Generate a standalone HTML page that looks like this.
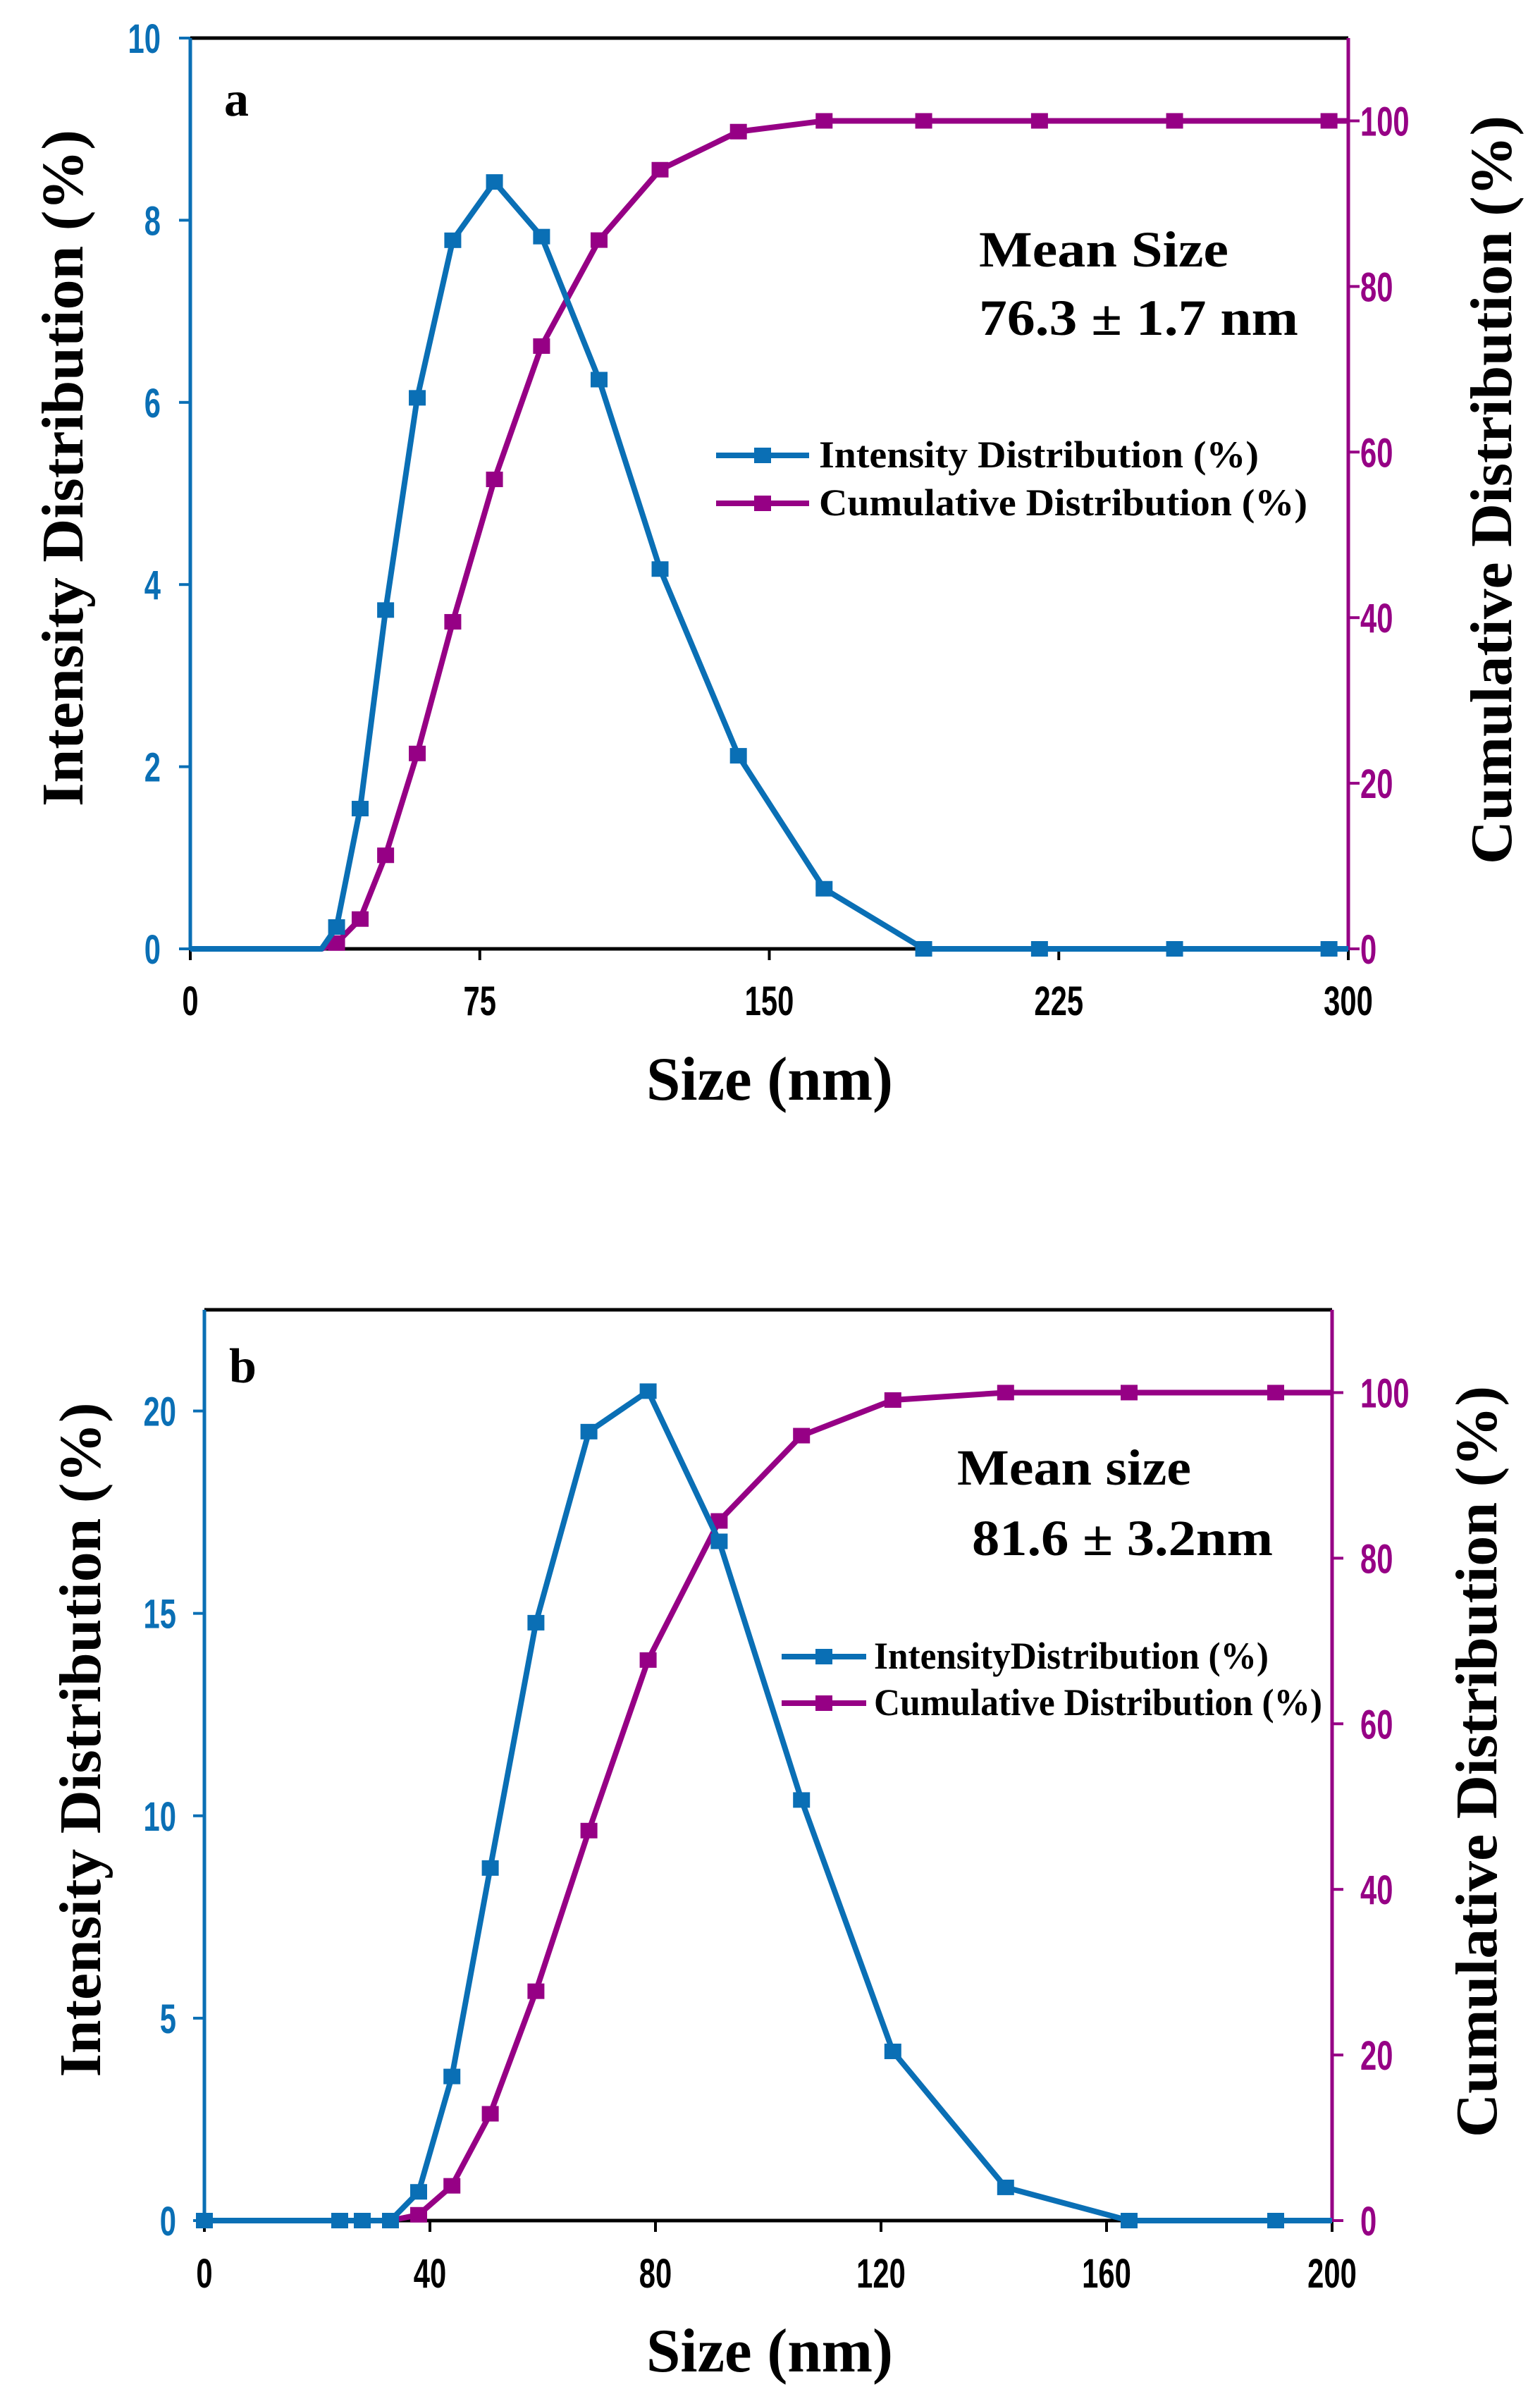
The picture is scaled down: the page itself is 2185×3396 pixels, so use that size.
<!DOCTYPE html>
<html><head><meta charset="utf-8"><style>
html,body{margin:0;padding:0;background:#fff;}
svg{display:block;}
</style></head><body>
<svg id="s" xmlns="http://www.w3.org/2000/svg" width="2185" height="3396" viewBox="0 0 2185 3396"></svg>
<script>
const B="#0a6fb5",P="#960085";
let o="";
function panel(p){
 const {L,R,T,Bm,xmax,ymax,y2max,xt,yt,y2t,I,C}=p;
 const X=v=>L+(R-L)*v/xmax, Y=v=>Bm-(Bm-T)*v/ymax, Y2=v=>Bm-(Bm-T)*v/y2max;
 o+=`<line x1="${L}" y1="${T}" x2="${R}" y2="${T}" stroke="#000" stroke-width="5"/>`;
 o+=`<line x1="${L}" y1="${Bm}" x2="${R}" y2="${Bm}" stroke="#000" stroke-width="5"/>`;
 o+=`<line x1="${L}" y1="${T}" x2="${L}" y2="${Bm}" stroke="${B}" stroke-width="5"/>`;
 o+=`<line x1="${R}" y1="${T}" x2="${R}" y2="${Bm}" stroke="${P}" stroke-width="5"/>`;
 const tf='font-family="Liberation Sans,sans-serif" font-weight="bold" font-size="58"';
 xt.forEach(v=>{const x=X(v);o+=`<line x1="${x}" y1="${Bm}" x2="${x}" y2="${Bm+16}" stroke="#000" stroke-width="4"/>`;
  o+=`<text x="${x}" y="${p.xly}" ${tf} text-anchor="middle" fill="#000" transform="translate(${x},0) scale(0.72,1) translate(${-x},0)">${v}</text>`;});
 yt.forEach(v=>{const y=Y(v);o+=`<line x1="${L-16}" y1="${y}" x2="${L}" y2="${y}" stroke="${B}" stroke-width="4"/>`;
  o+=`<text x="${p.ylx}" y="${y+21}" ${tf} text-anchor="end" fill="${B}" transform="translate(${p.ylx},0) scale(0.72,1) translate(${-p.ylx},0)">${v}</text>`;});
 y2t.forEach(v=>{const y=Y2(v);o+=`<line x1="${R}" y1="${y}" x2="${R+16}" y2="${y}" stroke="${P}" stroke-width="4"/>`;
  o+=`<text x="${1930}" y="${y+21}" ${tf} fill="${P}" transform="translate(1930,0) scale(0.72,1) translate(-1930,0)">${v}</text>`;});
 function series(d,col,Yf){
  o+=`<polyline fill="none" stroke="${col}" stroke-width="8" stroke-linejoin="round" points="${d.map(q=>X(q[0])+","+Yf(q[1])).join(" ")}"/>`;
  d.forEach(q=>{if(q[2]===0)return;o+=`<rect x="${X(q[0])-12}" y="${Yf(q[1])-11}" width="24" height="22" fill="${col}"/>`;});
 }
 series(C,P,Y2); series(I,B,Y);
 const sf='font-family="Liberation Serif,serif" font-weight="bold"';
 o+=`<text x="${p.lx}" y="${p.ly}" ${sf} font-size="70">${p.lab}</text>`;
 o+=`<text x="${p.m1[0]}" y="${p.m1[1]}" ${sf} font-size="72" textLength="${p.m1[2]}" lengthAdjust="spacingAndGlyphs">${p.m1[3]}</text>`;
 o+=`<text x="${p.m2[0]}" y="${p.m2[1]}" ${sf} font-size="72" textLength="${p.m2[2]}" lengthAdjust="spacingAndGlyphs">${p.m2[3]}</text>`;
 const g=p.leg;
 [[B,g.y1,g.t1,g.w1],[P,g.y2,"Cumulative Distribution (%)",g.w2]].forEach(a=>{
  o+=`<line x1="${g.x1}" y1="${a[1]}" x2="${g.x2}" y2="${a[1]}" stroke="${a[0]}" stroke-width="8"/>`;
  o+=`<rect x="${(g.x1+g.x2)/2-12}" y="${a[1]-11}" width="24" height="22" fill="${a[0]}"/>`;
  o+=`<text x="${g.tx}" y="${a[1]+17}" ${sf} font-size="54" textLength="${a[3]}" lengthAdjust="spacingAndGlyphs">${a[2]}</text>`;});
 o+=`<text x="1092" y="${p.xty}" ${sf} font-size="88" text-anchor="middle" textLength="350" lengthAdjust="spacingAndGlyphs">Size (nm)</text>`;
 o+=`<text transform="translate(${p.yl[0]},${p.yl[1]}) rotate(-90)" ${sf} font-size="84" text-anchor="middle" textLength="${p.yl[2]}" lengthAdjust="spacingAndGlyphs" dy="30">Intensity Distribution (%)</text>`;
 o+=`<text transform="translate(${p.yr[0]},${p.yr[1]}) rotate(-90)" ${sf} font-size="84" text-anchor="middle" textLength="${p.yr[2]}" lengthAdjust="spacingAndGlyphs" dy="30">Cumulative Distribution (%)</text>`;
}
panel({L:270,R:1913,T:54,Bm:1346,xmax:300,ymax:10,y2max:110,xt:[0,75,150,225,300],yt:[0,2,4,6,8,10],y2t:[0,20,40,60,80,100],
 xly:1440,ylx:228,lx:318,ly:164,lab:"a",
 I:[[0,0,0],[34,0,0],[37.9,0.24],[44,1.54],[50.6,3.72],[58.8,6.05],[68,7.78],[78.8,8.42],[91,7.82],[105.9,6.25],[121.7,4.17],[142,2.12],[164.2,0.66],[190,0],[220,0],[255,0],[295,0],[300,0,0]],
 C:[[0,0,0],[34,0,0],[37.9,0.7],[44,3.6],[50.6,11.3],[58.8,23.6],[68,39.5],[78.8,56.7],[91,72.8],[105.9,85.6],[121.7,94.1],[142,98.7],[164.2,100],[190,100],[220,100],[255,100],[295,100],[300,100,0]],
 m1:[1389,378,354,"Mean Size"],m2:[1389,475,453,"76.3 ± 1.7 nm"],
 leg:{x1:1016,x2:1148,tx:1162,y1:646,y2:714,t1:"Intensity Distribution (%)",w1:624,w2:693},
 xty:1560,yl:[87,664,960],yr:[2114,695,1062]});
panel({L:290,R:1890,T:1858,Bm:3150,xmax:200,ymax:22.5,y2max:110,xt:[0,40,80,120,160,200],yt:[0,5,10,15,20],y2t:[0,20,40,60,80,100],
 xly:3245,ylx:250,lx:325,ly:1961,lab:"b",
 I:[[0,0],[5,0,0],[24,0],[28,0],[33,0],[38,0.71],[43.9,3.56],[50.7,8.71],[58.8,14.77],[68.2,19.49],[78.7,20.49],[91.3,16.78],[105.9,10.39],[122.1,4.18],[142.1,0.82],[164,0],[190,0],[200,0,0]],
 C:[[0,0],[5,0,0],[24,0],[28,0],[33,0],[38,0.7],[43.9,4.2],[50.7,12.9],[58.8,27.7],[68.2,47.1],[78.7,67.7],[91.3,84.5],[105.9,94.8],[122.1,99.1],[142.1,100],[164,100],[190,100],[200,100,0]],
 m1:[1358,2106,332,"Mean size"],m2:[1379,2206,427,"81.6 ± 3.2nm"],
 leg:{x1:1109,x2:1229,tx:1240,y1:2350,y2:2416,t1:"IntensityDistribution (%)",w1:560,w2:636},
 xty:3364,yl:[112,2468,957],yr:[2093,2499,1066]});
document.getElementById("s").innerHTML=o;
</script>
</body></html>
